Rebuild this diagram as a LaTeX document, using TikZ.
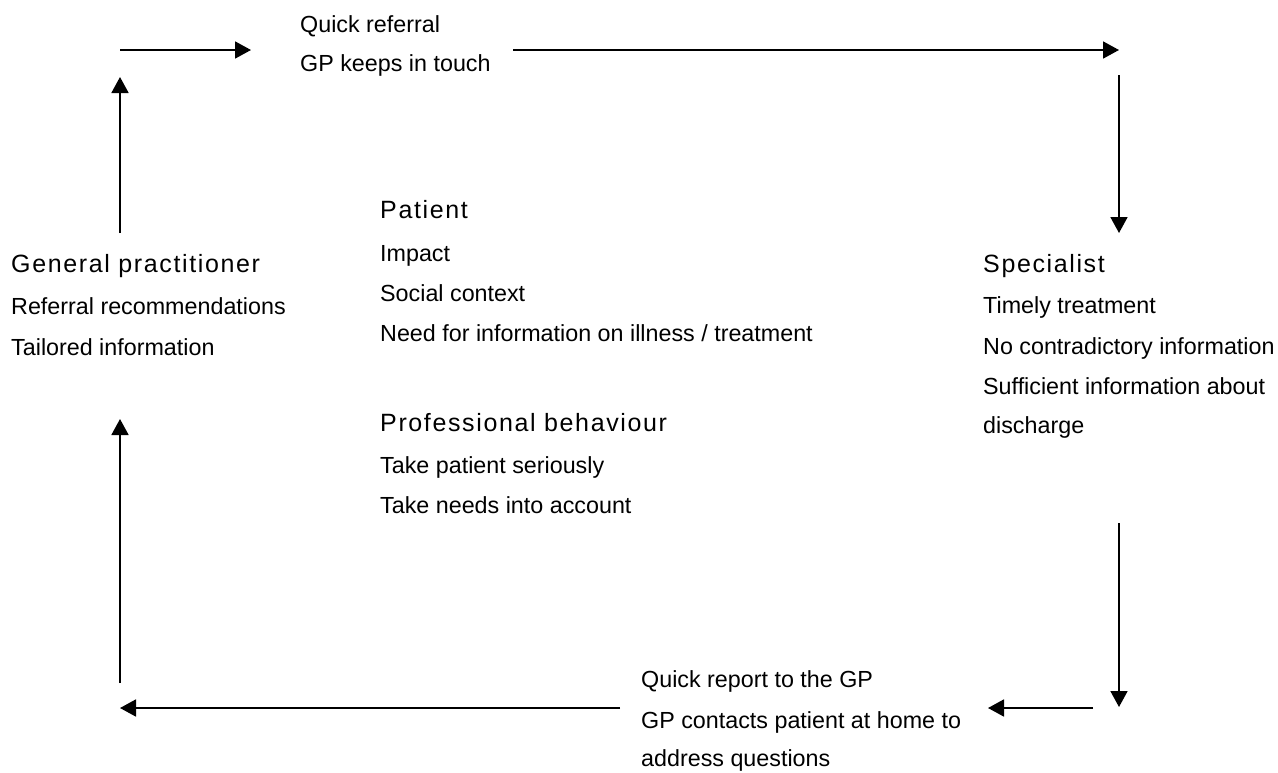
\documentclass[tikz,border=0pt]{standalone}
\usepackage{fontspec}
\setmainfont{Liberation Sans}
\newfontfamily\headfont[LetterSpace=6.5]{Liberation Sans}
\usetikzlibrary{arrows.meta}

\begin{document}
\begin{tikzpicture}[x = 1pt, y = -1pt,
  item/.style = {anchor = base west, inner sep = 0pt, font = \fontsize{23.3}{27}\selectfont},
  head/.style = {anchor = base west, inner sep = 0pt, font = \headfont\fontsize{25}{30}\selectfont},
  flow/.style = {line width = 1.8pt, -{Triangle[length = 16pt, width = 17pt]}}]
\useasboundingbox (0,0) rectangle (1278,772);
% top row
\node[item] (top1) at (300,32) {Quick referral};
\node[item] (top2) at (300,71) {GP keeps in touch};
% general practitioner
\node[head] (gp) at (11,272) {General practitioner};
\node[item] (gp1) at (11,314) {Referral recommendations};
\node[item] (gp2) at (11,355) {Tailored information};
% patient
\node[head] (pat) at (380,218) {Patient};
\node[item] (pat1) at (380,261) {Impact};
\node[item] (pat2) at (380,301) {Social context};
\node[item] (pat3) at (380,341) {Need for information on illness / treatment};
% professional behaviour
\node[head] (prof) at (380,431) {Professional behaviour};
\node[item] (prof1) at (380,473) {Take patient seriously};
\node[item] (prof2) at (380,513) {Take needs into account};
% specialist
\node[head] (spec) at (983,272) {Specialist};
\node[item] (spec1) at (983,313) {Timely treatment};
\node[item] (spec2) at (983,354) {No contradictory information};
\node[item] (spec3) at (983,394) {Sufficient information about};
\node[item] (spec4) at (983,433) {discharge};
% bottom row
\node[item] (bot1) at (641,687) {Quick report to the GP};
\node[item] (bot2) at (641,728) {GP contacts patient at home to};
\node[item] (bot3) at (641,766) {address questions};

% arrow ends
\coordinate (t1a) at (120,50);   \coordinate (t1b) at (251,50);
\coordinate (t2a) at (513,50);   \coordinate (t2b) at (1119,50);
\coordinate (r1a) at (1119,75);  \coordinate (r1b) at (1119,233);
\coordinate (r2a) at (1119,523); \coordinate (r2b) at (1119,707);
\coordinate (b1a) at (1093,708); \coordinate (b1b) at (988,708);
\coordinate (b2a) at (620,708);  \coordinate (b2b) at (120,708);
\coordinate (l1a) at (120,683);  \coordinate (l1b) at (120,419);
\coordinate (l2a) at (120,233);  \coordinate (l2b) at (120,77);

\draw[flow] (t1a) -- (t1b);
\draw[flow] (t2a) -- (t2b);
\draw[flow] (r1a) -- (r1b);
\draw[flow] (r2a) -- (r2b);
\draw[flow] (b1a) -- (b1b);
\draw[flow] (b2a) -- (b2b);
\draw[flow] (l1a) -- (l1b);
\draw[flow] (l2a) -- (l2b);
\end{tikzpicture}
\end{document}
